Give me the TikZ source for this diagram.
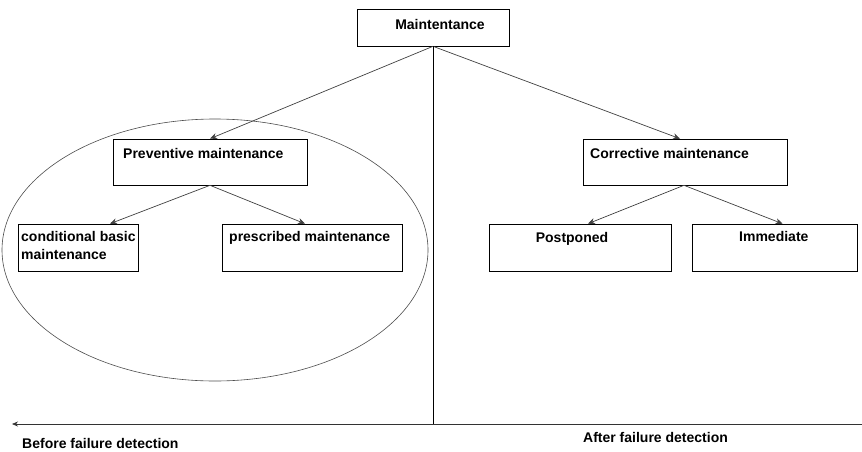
\documentclass[tikz,border=0pt]{standalone}
\usepackage{fontspec}
\setmainfont{Liberation Sans}
\usetikzlibrary{arrows.meta}

\tikzset{
  box/.style={draw, line width=0.6pt, inner sep=0pt},
  lbl/.style={font=\fontsize{14}{18}\selectfont\bfseries, inner sep=0pt, align=left},
  link/.style={draw=black!75, line width=0.7pt, -{Stealth[length=7pt,width=6pt]}},
}

\begin{document}
\begin{tikzpicture}[x=1pt, y=-1pt]
    \useasboundingbox (0,0) rectangle (862,451);
    % boxes
    \node[box, minimum width=152pt, minimum height=37pt] (main) at (433,27.5) {};
    \node[box, minimum width=194pt, minimum height=46pt] (prev) at (210,162) {};
    \node[box, minimum width=120pt, minimum height=47pt] (cond) at (78,247.5) {};
    \node[box, minimum width=180pt, minimum height=47pt] (pres) at (312,247.5) {};
    \node[box, minimum width=204pt, minimum height=46pt] (corr) at (685,162) {};
    \node[box, minimum width=182pt, minimum height=47pt] (post) at (580,247.5) {};
    \node[box, minimum width=165pt, minimum height=47pt] (imm) at (774.5,247.5) {};
    % texts
    \node[lbl] (mainT) at (440,24) {Maintentance};
    \node[lbl, anchor=west] (prevT) at (123,153) {Preventive maintenance};
    \node[lbl, anchor=north west] (condT) at (21,231) {conditional basic\\maintenance};
    \node[lbl, anchor=west] (presT) at (229,238) {prescribed maintenance};
    \node[lbl, anchor=west] (corrT) at (590,153) {Corrective maintenance};
    \node[lbl] (postT) at (572,239) {Postponed};
    \node[lbl, anchor=west] (immT) at (739,236) {Immediate};
    % tree links
    \draw[link] (main.south) -- (prev.north);
    \draw[link] (main.south) -- ([xshift=-5pt]corr.north);
    \draw[link] (prev.south) -- ([xshift=32pt]cond.north);
    \draw[link] (prev.south) -- ([xshift=-7pt]pres.north);
    \draw[link] ([xshift=-1pt]corr.south) -- ([xshift=8pt]post.north);
    \draw[link] ([xshift=-1pt]corr.south) -- ([xshift=8pt]imm.north);
    % preventive group
    \draw[draw=black!70, line width=0.6pt] (215,250) ellipse (213 and 131);
    % time axis
    \coordinate (mid) at (433,424);
    \coordinate (axisR) at (862,424);
    \coordinate (axisL) at (12,424);
    \draw[line width=0.6pt] (main.south) -- (mid);
    \draw[draw=black!80, line width=0.7pt, -{Stealth[length=6pt,width=5pt]}] (axisR) -- (axisL);
    \node[lbl, anchor=west] (before) at (22,443) {Before failure detection};
    \node[lbl, anchor=west] (after) at (583,437) {After failure detection};
\end{tikzpicture}
\end{document}
